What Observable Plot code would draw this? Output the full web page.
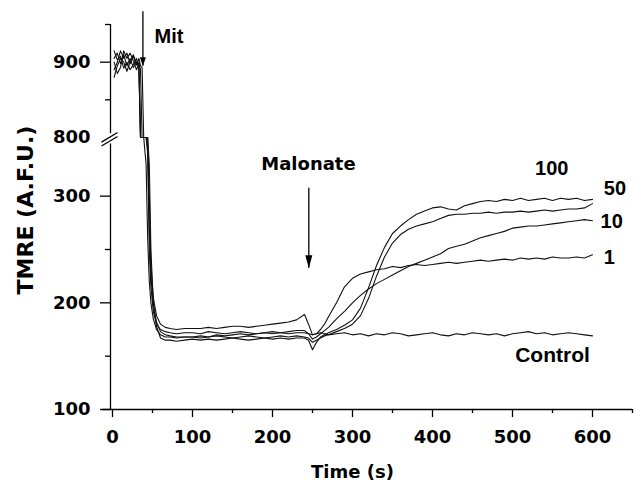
<!DOCTYPE html>
<html><head><meta charset="utf-8">
<script src="https://cdn.jsdelivr.net/npm/d3@7"></script>
<script src="https://cdn.jsdelivr.net/npm/@observablehq/plot@0.6"></script>
<style>body{margin:0;background:#fff}</style>
</head><body><div id="chart"></div>
<script>
// Time (s)
const time = [2,6,10,14,18,22,26,30,33,35,37,39,42,44,46,48,51,55,60,66,72,80,90,
  100,110,120,130,140,150,160,170,180,190,200,210,220,230,240,
  245,250,255,260,265,270,
  280,290,300,310,320,330,340,350,360,370,380,390,400,410,420,430,440,450,460,470,480,490,500,510,520,530,540,550,560,570,580,590,600];

// TMRE (A.F.U.) per malonate dose
const control = [905,912,898,910,895,905,893,900, 895,600,600,600, 600,340,250,215,192,180,175,173,172,171,172,
  172,171,173,172,171,172,173,172,171,172,173,172,171,172,172,
  171,170,171,172,171,170,
  171,172,170,171,169,171,170,172,171,169,170,171,172,170,169,171,170,172,171,170,171,169,171,172,173,171,172,170,171,172,171,170,169];
const dose1 = [890,900,915,905,912,898,908,896, 900,890,600,600, 600,600,300,235,205,188,180,177,176,175,176,
  176,176,177,176,177,178,178,177,178,179,180,181,182,184,189,
  180,170,171,175,180,187,
  200,215,223,227,229,231,232,234,233,235,236,235,236,237,238,237,238,239,240,239,240,241,240,242,241,242,241,243,242,242,243,242,245];
const dose10 = [915,903,908,892,900,890,897,905, 890,600,600,600, 330,260,220,200,185,175,170,168,168,167,168,
  168,169,168,170,169,170,171,170,171,172,171,172,173,174,174,
  171,166,168,171,174,177,
  185,192,200,207,213,218,222,226,230,234,237,240,243,246,251,253,255,258,261,263,265,267,270,271,272,272,273,274,275,276,277,278,277];
const dose50 = [880,895,905,900,888,900,910,898, 905,895,893,600, 600,345,270,225,198,182,173,170,169,168,168,
  168,167,168,169,168,167,168,169,168,167,168,169,168,169,168,
  167,163,165,167,169,170,
  173,176,180,188,204,225,243,256,264,269,272,274,276,279,282,283,283,284,284,285,284,285,285,286,285,286,287,286,287,288,288,289,293];
const dose100 = [900,885,893,915,905,912,902,890, 898,600,600,600, 600,600,330,250,200,178,167,165,165,164,165,
  166,165,166,165,166,167,166,165,166,167,166,167,166,167,167,
  165,156,163,168,170,172,
  175,179,184,195,214,235,252,265,272,278,283,286,289,290,288,287,291,293,295,296,295,297,296,298,296,297,298,296,298,297,298,296,297];

const seriesNames = ["Control", "1", "10", "50", "100"];
const seriesValues = [control, dose1, dose10, dose50, dose100];

const xMajorTicks = [0,100,200,300,400,500,600];
const xMinorTicks = [50,150,250,350,450,550,650];
const yMajorTicks = [100,200,300,900];
const yBreakTick = [800];
const yMinorTicks = [150,250,850,950];

const rows = [];
seriesNames.forEach((name, k) => seriesValues[k].forEach((v, i) => rows.push({t: time[i], v, s: name})));

// broken axis: lower 100-355, upper 800-950
const yDomain = [100, 355, 800, 950];
const yRange = [409, 137, 137, 24];

const doseLabels = [
  {text: "100", t: 549, v: 326},
  {text: "50", t: 628, v: 307},
  {text: "10", t: 624, v: 276},
  {text: "1", t: 621, v: 242}
];
const controlLabel = [{text: "Control", t: 550, v: 151}];
const mit = [{text: "Mit", t: 38, top: 967, tip: 894.7, lt: 52.5, lv: 934}];
const malonate = [{text: "Malonate", t: 245.4, top: 307.5, tip: 232.4, lt: 245, lv: 330}];
const breakMarks = [
  {x1: -13.75, y1: 347, x2: 6.25, y2: 801.3},
  {x1: -13.75, y1: 350.7, x2: 6.25, y2: 806.6}
];

function headSymbol(w, h) {
  return {draw(ctx) { ctx.moveTo(0, 0); ctx.lineTo(-w, -h); ctx.lineTo(w, -h); ctx.closePath(); }};
}

const wide = "'DejaVu Sans', Verdana, sans-serif";
const narrow = "'Liberation Sans', Arial, Helvetica, sans-serif";

const chart = Plot.plot({
  width: 635, height: 486,
  marginLeft: 110, marginRight: 3, marginTop: 24, marginBottom: 77,
  x: {domain: [-2.5, 650], axis: null},
  y: {type: "linear", domain: yDomain, range: yRange, axis: null},
  style: {fontFamily: wide, fontWeight: "bold", fontSize: "18px", color: "black", background: "white"},
  marks: [
    Plot.ruleY([100], {x1: -12.5, x2: 650, stroke: "black", strokeWidth: 1.3}),
    Plot.axisX({ticks: xMajorTicks, tickSize: 8, tickPadding: 13, fontSize: 18, fontWeight: "bold", fontFamily: wide, label: null, strokeWidth: 1.3}),
    Plot.axisX({ticks: xMinorTicks, tickSize: 4, tickFormat: () => "", label: null, strokeWidth: 1.3}),
    Plot.ruleX([-2.5], {y1: 100, y2: 348.8, stroke: "black", strokeWidth: 1.3}),
    Plot.ruleX([-2.5], {y1: 805, y2: 950, stroke: "black", strokeWidth: 1.3}),
    Plot.link(breakMarks, {x1: "x1", y1: "y1", x2: "x2", y2: "y2", stroke: "black", strokeWidth: 1.3}),
    Plot.axisY({ticks: yMajorTicks, tickSize: 10, tickPadding: 10, fontSize: 18, fontWeight: "bold", fontFamily: wide, label: null, strokeWidth: 1.3}),
    Plot.axisY({ticks: yBreakTick, tickSize: 0, tickPadding: 20, fontSize: 18, fontWeight: "bold", fontFamily: wide, label: null}),
    Plot.axisY({ticks: yMinorTicks, tickSize: 5, tickFormat: () => "", label: null, strokeWidth: 1.3}),
    Plot.line(rows, {x: "t", y: "v", z: "s", stroke: "#111", strokeWidth: 1.1}),
    Plot.ruleX(mit, {x: "t", y1: "top", y2: "tip", stroke: "black", strokeWidth: 1.3}),
    Plot.ruleX(malonate, {x: "t", y1: "top", y2: "tip", stroke: "black", strokeWidth: 1.3}),
    Plot.dot(mit, {x: "t", y: "tip", symbol: headSymbol(3, 9), fill: "black", stroke: "none"}),
    Plot.dot(malonate, {x: "t", y: "tip", symbol: headSymbol(3.5, 13), fill: "black", stroke: "none"}),
    Plot.text(mit, {x: "lt", y: "lv", text: "text", textAnchor: "start", fontSize: 20, fontWeight: "bold", fontFamily: narrow}),
    Plot.text(malonate, {x: "lt", y: "lv", text: "text", fontSize: 18, fontWeight: "bold", fontFamily: wide}),
    Plot.text(doseLabels, {x: "t", y: "v", text: "text", fontSize: 20, fontWeight: "bold", fontFamily: narrow}),
    Plot.text(controlLabel, {x: "t", y: "v", text: "text", fontSize: 21, fontWeight: "bold", fontFamily: narrow}),
    Plot.text(["Time (s)"], {x: 300, y: 100, dy: 63, fontSize: 18, fontWeight: "bold", fontFamily: wide}),
    Plot.text(["TMRE (A.F.U.)"], {x: -108.75, y: 287, rotate: -90, fontSize: 22, fontWeight: "bold", fontFamily: wide})
  ]
});
document.getElementById("chart").appendChild(chart);
</script>
</body></html>
